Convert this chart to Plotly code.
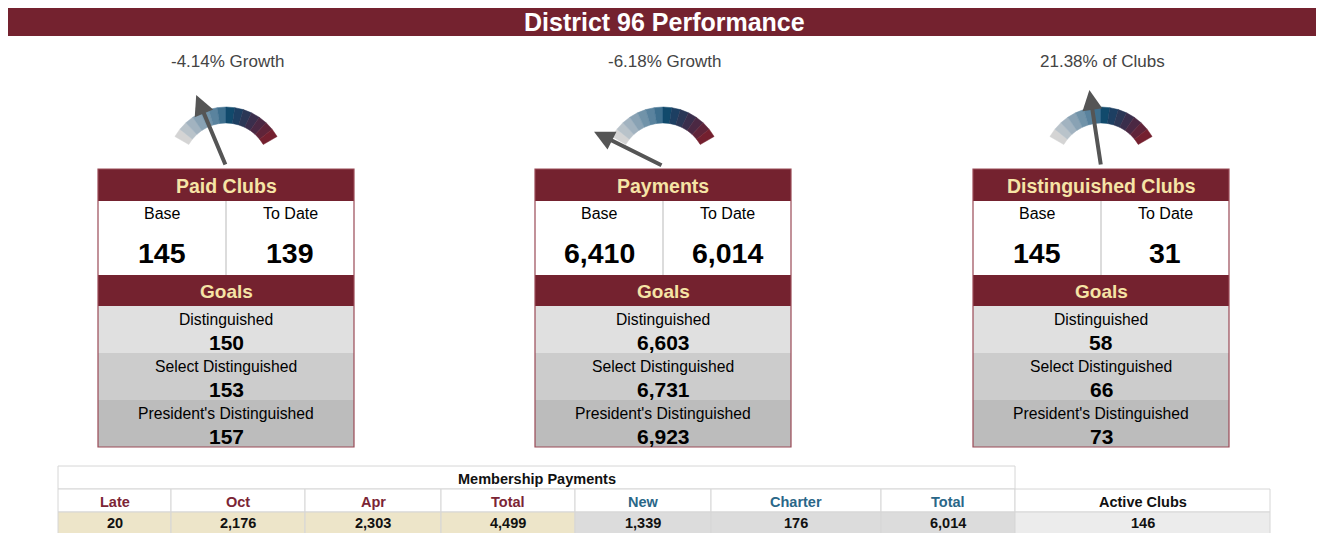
import math
import plotly.graph_objects as go

# ---------------- data ----------------
title_text = "District 96 Performance"
box_titles = ["Paid Clubs", "Payments", "Distinguished Clubs"]
base_values = [145, 6410, 145]
to_date_values = [139, 6014, 31]
gauge_kinds = ["growth", "growth", "share"]
gauge_ranges = [(-6.0, 0.0), (-6.0, 0.0), (0.0, 50.0)]
goal_labels = ["Distinguished", "Select Distinguished", "President's Distinguished"]
goals_paid_clubs = [150, 153, 157]
goals_payments = [6603, 6731, 6923]
goals_distinguished = [58, 66, 73]
payment_columns = ["Late", "Oct", "Apr", "Total", "New", "Charter", "Total"]
payment_values = [20, 2176, 2303, 4499, 1339, 176, 6014]
active_clubs_label = "Active Clubs"
active_clubs_value = 146

# ---------------- styles ----------------
W, H = 1324, 533
OFF = 8  # page body margin
MAROON = "#74222f"
CREAM = "#f6e4a6"
FONT = "Liberation Sans, Arial, sans-serif"
NARROW = "Liberation Sans Narrow, Arial Narrow, Liberation Sans, sans-serif"
seg_colors = ["#d4d4d4", "#b9c3ca", "#a2b3c0", "#89a2b4", "#7193a9", "#5a839e",
              "#3e6f8e", "#114a6c", "#1d3f62", "#2b3756", "#3a2e4c", "#4b2843",
              "#5f2439", "#74202f"]
goal_row_colors = ["#e0e0e0", "#cccccc", "#bcbcbc"]

box_centers = [226, 663, 1101]
box_w = 256
y_top, y_hdr, y_white, y_goals = 169, 201, 275, 306
row_h = 47
gauge_cy = 166
r_out, r_in = 59, 43
a_start, a_end = 150.0, 30.0
needle_len = 77

fig = go.Figure()
shapes = []
ann = []

def rect(x0, y0, x1, y1, fill, line_color=None, lw=0):
    shapes.append(dict(type="rect", xref="x", yref="y", x0=x0, y0=y0, x1=x1, y1=y1,
                       fillcolor=fill, line=dict(color=line_color or fill, width=lw), layer="below"))

def line(x0, y0, x1, y1, color, lw=1):
    shapes.append(dict(type="line", xref="x", yref="y", x0=x0, y0=y0, x1=x1, y1=y1,
                       line=dict(color=color, width=lw), layer="below"))

def text(x, y, t, size, color="#000", family=FONT, bold=False):
    ann.append(dict(x=x, y=y, xref="x", yref="y", text=f"<b>{t}</b>" if bold else t,
                    showarrow=False, font=dict(size=size, color=color, family=family),
                    xanchor="center", yanchor="middle"))

# Title bar
rect(7, 7, 1321, 36, MAROON)
text(664, 21.5, title_text, 25, "#ffffff", bold=True)

# Gauge arcs (one trace per colour segment, covering all three gauges)
n = len(seg_colors)
for i, col in enumerate(seg_colors):
    xs, ys = [], []
    a0 = a_start + (a_end - a_start) * i / n
    a1 = a_start + (a_end - a_start) * (i + 1) / n
    for cx in box_centers:
        pts_o = [(cx + r_out * math.cos(math.radians(a0 + (a1 - a0) * k / 6)),
                  gauge_cy - r_out * math.sin(math.radians(a0 + (a1 - a0) * k / 6))) for k in range(7)]
        pts_i = [(cx + r_in * math.cos(math.radians(a1 - (a1 - a0) * k / 6)),
                  gauge_cy - r_in * math.sin(math.radians(a1 - (a1 - a0) * k / 6))) for k in range(7)]
        pts = pts_o + pts_i + [pts_o[0]]
        xs += [p[0] for p in pts] + [None]
        ys += [p[1] for p in pts] + [None]
    fig.add_trace(go.Scatter(x=xs, y=ys, mode="lines", fill="toself", fillcolor=col,
                             line=dict(width=0.5, color=col), hoverinfo="skip"))

all_goals = [goals_paid_clubs, goals_payments, goals_distinguished]
for b, cx in enumerate(box_centers):
    base, todate = base_values[b], to_date_values[b]
    if gauge_kinds[b] == "growth":
        pct = (todate - base) / base * 100
        label = f"{pct:.2f}% Growth"
    else:
        pct = todate / base * 100
        label = f"{pct:.2f}% of Clubs"
    text(cx + 1, 61, label, 17, "#444444")
    lo, hi = gauge_ranges[b]
    frac = (pct - lo) / (hi - lo)
    ang = math.radians(a_start + (a_end - a_start) * frac)
    tipx = cx + needle_len * math.cos(ang)
    tipy = gauge_cy - needle_len * math.sin(ang)
    ann.append(dict(x=tipx, y=tipy, ax=cx, ay=gauge_cy, xref="x", yref="y", axref="x", ayref="y",
                    showarrow=True, arrowhead=2, arrowsize=1.0, arrowwidth=4,
                    arrowcolor="#555555", text="", standoff=0, startstandoff=0))

    x0, x1 = cx - box_w / 2, cx + box_w / 2
    # header
    rect(x0, y_top, x1, y_hdr, MAROON)
    text(cx, (y_top + y_hdr) / 2 + 1, box_titles[b], 19.5, CREAM, bold=True)
    rect(x0, y_hdr, x1, y_white, "#ffffff")
    line(cx, y_hdr, cx, y_white, "#d0d0d0", 1.5)
    text((x0 + cx) / 2, 213, "Base", 16)
    text((cx + x1) / 2, 213, "To Date", 16)
    text((x0 + cx) / 2, 253, f"{base:,}", 28.5, bold=True)
    text((cx + x1) / 2, 253, f"{todate:,}", 28.5, bold=True)
    rect(x0, y_white, x1, y_goals, MAROON)
    text(cx, (y_white + y_goals) / 2 + 1, "Goals", 19, CREAM, bold=True)
    for r, (gl, gv) in enumerate(zip(goal_labels, all_goals[b])):
        ry = y_goals + r * row_h
        rect(x0, ry, x1, ry + row_h, goal_row_colors[r])
        text(cx, ry + 13, gl, 15.7)
        text(cx, ry + 36, f"{gv:,}", 21, bold=True)
    shapes.append(dict(type="rect", xref="x", yref="y", x0=x0, y0=y_top, x1=x1, y1=y_goals + 3 * row_h,
                       fillcolor="rgba(0,0,0,0)", line=dict(color="#9a4a56", width=1.2), layer="below"))

# Membership table
col_edges = [58, 171, 305, 441, 575, 711, 881, 1015]
act_edges = [1015, 1270]
t_r0, t_r1, t_r2, t_r3 = 466, 489, 512, 535
GRID = "#d6d6d6"
hdr_colors = ["#7b2535"] * 4 + ["#2a6788"] * 3
val_bg = ["#ede5c9"] * 4 + ["#dcdcdc"] * 3
rect(col_edges[0], t_r0, col_edges[-1], t_r1, "#ffffff", GRID, 1)
text((col_edges[0] + col_edges[-1]) / 2, (t_r0 + t_r1) / 2 + 1, "Membership Payments", 14.5, "#111", NARROW, True)
for i, (c, v) in enumerate(zip(payment_columns, payment_values)):
    xa, xb = col_edges[i], col_edges[i + 1]
    rect(xa, t_r1, xb, t_r2, "#ffffff", GRID, 1)
    rect(xa, t_r2, xb, t_r3, val_bg[i], GRID, 1)
    text((xa + xb) / 2, (t_r1 + t_r2) / 2 + 1, c, 14.5, hdr_colors[i], NARROW, True)
    text((xa + xb) / 2, (t_r2 + t_r3) / 2 - 0.5, f"{v:,}", 14.5, "#111", NARROW, True)
rect(act_edges[0], t_r1, act_edges[1], t_r2, "#ffffff", GRID, 1)
rect(act_edges[0], t_r2, act_edges[1], t_r3, "#ececec", GRID, 1)
text(sum(act_edges) / 2, (t_r1 + t_r2) / 2 + 1, active_clubs_label, 14.5, "#111", NARROW, True)
text(sum(act_edges) / 2, (t_r2 + t_r3) / 2 - 0.5, f"{active_clubs_value:,}", 14.5, "#111", NARROW, True)

# figure sized to fit exactly inside the page after the 8px body margin
FW, FH = W - OFF, H - OFF
fig.update_layout(
    width=FW, height=FH, margin=dict(l=0, r=0, t=0, b=0),
    paper_bgcolor="#ffffff", plot_bgcolor="#ffffff", showlegend=False,
    xaxis=dict(range=[OFF, W], visible=False, fixedrange=True),
    yaxis=dict(range=[H, OFF], visible=False, fixedrange=True),
    shapes=shapes, annotations=ann,
)
fig.write_html("out.html", config={"displayModeBar": False})
